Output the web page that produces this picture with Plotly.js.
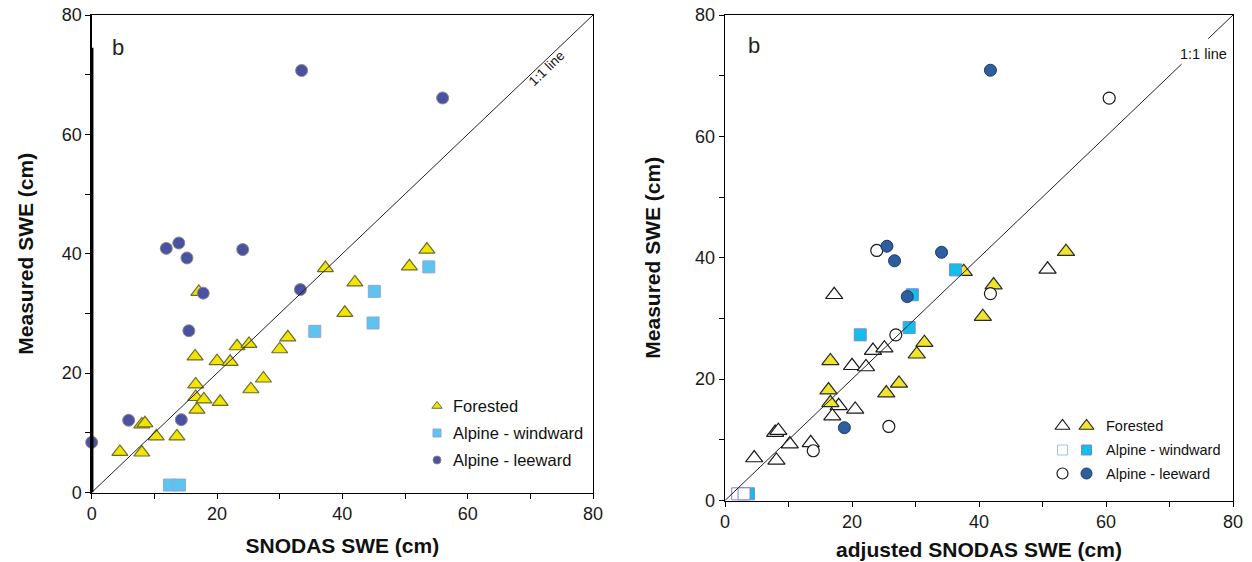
<!DOCTYPE html>
<html><head><meta charset="utf-8">
<script src="https://cdn.plot.ly/plotly-3.0.1.min.js"></script>
<style>html,body{margin:0;padding:0;background:#fff;}#chart{width:1252px;height:562px;}</style>
</head><body><div id="chart"></div>
<script>
// ---------- data ----------
const categories = ["Forested", "Alpine - windward", "Alpine - leeward"];
const tickValues = [0, 20, 40, 60, 80];
const tickLabels = ["0", "20", "40", "60", "80"];
const panelTag = "b";
const oneToOneLabel = "1:1 line";
const leftXTitle = "SNODAS SWE (cm)";
const rightXTitle = "adjusted SNODAS SWE (cm)";
const yTitle = "Measured SWE (cm)";

// left panel: SNODAS SWE vs measured
const forestedX = [4.5, 8.0, 8.0, 8.5, 10.3, 13.6, 16.5, 16.6, 16.6, 17.9, 16.8, 20.5, 20.0, 22.1, 23.2, 25.1, 25.4, 27.4, 30.0, 31.3, 17.1, 37.3, 42.0, 40.4, 50.7, 53.5];
const forestedY = [6.8, 6.7, 11.4, 11.6, 9.4, 9.4, 22.8, 18.1, 16.0, 15.6, 13.9, 15.2, 22.0, 21.9, 24.5, 24.9, 17.3, 19.1, 24.0, 26.0, 33.6, 37.6, 35.2, 30.1, 37.9, 40.7];
const windwardX = [12.4, 14.0, 35.6, 45.1, 44.9, 53.8];
const windwardY = [1.25, 1.25, 27.0, 33.7, 28.4, 37.8];
const leewardX = [0.0, 5.9, 14.3, 15.5, 17.8, 15.2, 11.9, 13.9, 24.1, 33.3, 33.5, 56.0];
const leewardY = [8.4, 12.1, 12.2, 27.1, 33.4, 39.3, 40.9, 41.8, 40.7, 34.0, 70.7, 66.1];

// right panel: adjusted SNODAS SWE vs measured (open = unadjusted, filled = adjusted)
const forestedOpenX = [4.6, 8.1, 7.9, 8.4, 10.2, 13.5, 17.9, 16.9, 20.5, 20.0, 22.2, 23.3, 25.1, 17.2, 50.8];
const forestedOpenY = [7.0, 6.6, 11.2, 11.5, 9.3, 9.5, 15.6, 13.9, 15.0, 22.2, 22.0, 24.7, 25.1, 33.9, 38.1];
const forestedAdjX = [16.6, 16.3, 16.6, 25.4, 27.4, 30.2, 31.4, 37.6, 42.3, 40.6, 53.7];
const forestedAdjY = [23.0, 18.2, 16.1, 17.7, 19.3, 24.1, 26.0, 37.7, 35.5, 30.3, 41.0];
const windwardOpenX = [2.0, 3.0];
const windwardOpenY = [1.1, 1.1];
const windwardAdjX = [3.7, 21.3, 29.0, 29.5, 36.3];
const windwardAdjY = [1.1, 27.3, 28.5, 33.9, 38.0];
const leewardOpenX = [23.9, 26.9, 41.8, 60.5, 25.8, 13.9];
const leewardOpenY = [41.2, 27.3, 34.1, 66.3, 12.2, 8.2];
const leewardAdjX = [41.8, 25.5, 26.7, 34.1, 28.7, 18.8];
const leewardAdjY = [70.9, 41.9, 39.5, 40.9, 33.6, 12.0];

const oneToOne = [0, 80];

// ---------- styling ----------
const W = 1252, H = 562;
const FONT = "Liberation Sans, Arial, Helvetica, sans-serif";
const dx = (a, b) => [a / W, b / W];
const dy = (top, bottom) => [1 - bottom / H, 1 - top / H];

function mk(x, y, xa, ya, symbol, size, fill, line, lw) {
  return {type: 'scatter', mode: 'markers', x: x, y: y, xaxis: xa, yaxis: ya,
    marker: {symbol: symbol, size: size, color: fill, line: {color: line, width: lw}},
    hoverinfo: 'skip', showlegend: false, cliponaxis: false};
}
function ln(x, y, xa, ya) {
  return {type: 'scatter', mode: 'lines', x: x, y: y, xaxis: xa, yaxis: ya,
    line: {color: '#222', width: 1}, hoverinfo: 'skip', showlegend: false, connectgaps: false};
}

const C = {
  triL: '#f2e600', triLedge: '#6e6c30',
  sqL: '#5cc4ef', sqLedge: '#8fa6dc',
  ciL: '#4b51a1', ciLedge: '#8a8a8a',
  triR: '#f1e42c', sqR: '#12bfe8', sqRedge: '#7f84d4', ciR: '#2f5e9e', ciRedge: '#1d3a66'
};

// right 1:1 line broken around its label
const gapLo = 71.9, gapHi = 76.1;
const rightLineX = [oneToOne[0], gapLo, null, gapHi, oneToOne[1]];
const rightLineY = [oneToOne[0], gapLo, null, gapHi, oneToOne[1]];

const traces = [
  // left panel
  mk(forestedX, forestedY, 'x', 'y', 'triangle-up', 14, C.triL, C.triLedge, 1.2),
  mk(windwardX, windwardY, 'x', 'y', 'square', 12, C.sqL, C.sqLedge, 1),
  mk(leewardX, leewardY, 'x', 'y', 'circle', 12, C.ciL, C.ciLedge, 1),
  ln(oneToOne, oneToOne, 'x', 'y'),
  // right panel
  mk(forestedOpenX, forestedOpenY, 'x2', 'y2', 'triangle-up', 15, '#ffffff', '#1a1a1a', 1.2),
  mk(forestedAdjX, forestedAdjY, 'x2', 'y2', 'triangle-up', 15, C.triR, '#2a2a2a', 1.2),
  mk(leewardOpenX, leewardOpenY, 'x2', 'y2', 'circle', 12, '#ffffff', '#1a1a1a', 1.2),
  mk(windwardAdjX, windwardAdjY, 'x2', 'y2', 'square', 12, C.sqR, C.sqRedge, 1),
  mk(windwardOpenX, windwardOpenY, 'x2', 'y2', 'square', 12, '#ffffff', C.sqRedge, 1),
  mk(leewardAdjX, leewardAdjY, 'x2', 'y2', 'circle', 12, C.ciR, C.ciRedge, 1),
  ln(rightLineX, rightLineY, 'x2', 'y2'),
];

// ---------- custom legends (pixel overlay axis) ----------
const legL = {x: 437, text: 451, rows: [406, 433, 460], size: 16.5};
const legR = {xo: 1062.5, xf: 1086.5, text: 1104, rows: [426, 450, 473.5], size: 14.5};
traces.push(
  mk([legL.x], [legL.rows[0]], 'x3', 'y3', 'triangle-up', 9, C.triL, C.triLedge, 1),
  mk([legL.x], [legL.rows[1]], 'x3', 'y3', 'square', 8, C.sqL, C.sqLedge, 1),
  mk([legL.x], [legL.rows[2]], 'x3', 'y3', 'circle', 8, C.ciL, C.ciLedge, 1),
  mk([legR.xo], [legR.rows[0]], 'x3', 'y3', 'triangle-up', 13, '#ffffff', '#1a1a1a', 1.2),
  mk([legR.xf], [legR.rows[0]], 'x3', 'y3', 'triangle-up', 13, C.triR, '#2a2a2a', 1.2),
  mk([legR.xo], [legR.rows[1]], 'x3', 'y3', 'square', 10, '#ffffff', '#9fc4ec', 1),
  mk([legR.xf], [legR.rows[1]], 'x3', 'y3', 'square', 10, C.sqR, C.sqRedge, 1),
  mk([legR.xo], [legR.rows[2]], 'x3', 'y3', 'circle', 11, '#ffffff', '#1a1a1a', 1.2),
  mk([legR.xf], [legR.rows[2]], 'x3', 'y3', 'circle', 11, C.ciR, C.ciRedge, 1)
);

function axisBase(domain, anchor, title, standoff) {
  return {
    domain: domain, anchor: anchor, range: [0, 80], autorange: false,
    tickvals: tickValues, ticktext: tickLabels, ticks: 'outside', ticklen: 5, tickwidth: 1, tickcolor: '#000',
    minor: {tickvals: [10, 30, 50, 70], ticks: 'outside', ticklen: 5, tickwidth: 1, tickcolor: '#000'},
    showline: true, linecolor: '#000', linewidth: 1.3, mirror: true,
    showgrid: false, zeroline: false, fixedrange: true,
    tickfont: {family: FONT, size: 18, color: '#1a1a1a'},
    title: {text: title, standoff: standoff, font: {family: FONT, size: 21, color: '#111', weight: 'bold'}}
  };
}

const annotations = [];
const ann = (o) => annotations.push(Object.assign({showarrow: false, font: {family: FONT, size: 14, color: '#111'}}, o));
ann({xref: 'x', yref: 'y', x: 4.2, y: 74.6, text: panelTag, font: {family: FONT, size: 22, color: '#222'}});
ann({xref: 'x2', yref: 'y2', x: 4.6, y: 75.0, text: panelTag, font: {family: FONT, size: 22, color: '#222'}});
ann({xref: 'x', yref: 'y', x: 72.6, y: 71.0, text: oneToOneLabel, textangle: -43.7, font: {family: FONT, size: 13.5, color: '#111'}});
ann({xref: 'x2', yref: 'y2', x: 75.3, y: 73.5, text: oneToOneLabel, font: {family: FONT, size: 14.5, color: '#111'}});
categories.forEach((c, i) => {
  ann({xref: 'x3', yref: 'y3', x: legL.text, y: legL.rows[i], xanchor: 'left', yanchor: 'middle', text: c, font: {family: FONT, size: legL.size, color: '#111'}});
  ann({xref: 'x3', yref: 'y3', x: legR.text, y: legR.rows[i], xanchor: 'left', yanchor: 'middle', text: c, font: {family: FONT, size: legR.size, color: '#111'}});
});

const layout = {
  width: W, height: H, margin: {l: 0, r: 0, t: 0, b: 0},
  paper_bgcolor: '#ffffff', plot_bgcolor: 'rgba(0,0,0,0)',
  showlegend: false, font: {family: FONT},
  xaxis: axisBase(dx(91.7, 593), 'y', leftXTitle, 15),
  yaxis: axisBase(dy(15, 492.5), 'x', yTitle, 22),
  xaxis2: axisBase(dx(725, 1233), 'y2', rightXTitle, 11),
  yaxis2: axisBase(dy(15, 500.5), 'x2', yTitle, 28),
  xaxis3: {domain: [0, 1], anchor: 'y3', range: [0, W], visible: false, fixedrange: true, showgrid: false, zeroline: false},
  yaxis3: {domain: [0, 1], anchor: 'x3', range: [H, 0], visible: false, fixedrange: true, showgrid: false, zeroline: false},
  shapes: [
    {type: 'line', xref: 'x', yref: 'y', x0: 0, x1: 0, y0: 0, y1: 74.5, line: {color: '#000', width: 3.5}, layer: 'above'}
  ],
  annotations: annotations
};

Plotly.newPlot('chart', traces, layout, {staticPlot: true, displayModeBar: false});
</script>
</body></html>
